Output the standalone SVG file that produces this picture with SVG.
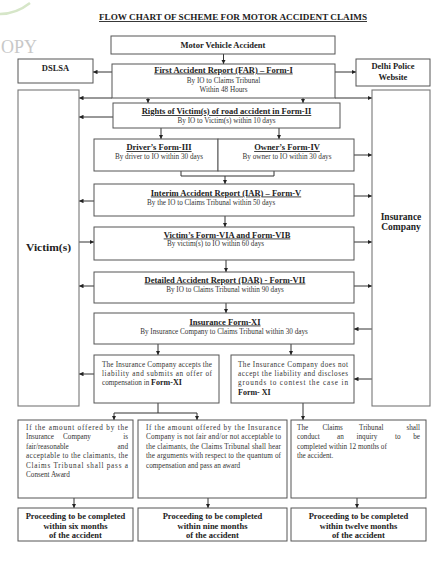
<svg xmlns="http://www.w3.org/2000/svg" width="442" height="564" viewBox="0 0 442 564">
<style>
.box{fill:#fff;stroke:#555;stroke-width:1}
.side{fill:#fff;stroke:#777;stroke-width:1.1}
.t{font-family:"Liberation Serif","Times New Roman",serif;font-size:7.2px;fill:#333}
.b{font-family:"Liberation Serif","Times New Roman",serif;font-weight:bold;font-size:8.5px;fill:#222}
.u{text-decoration:underline}
.c{text-anchor:middle}
.e{text-anchor:end}
.ln{stroke:#333;stroke-width:1;fill:none}
.ar{stroke:#333;stroke-width:1;fill:none;marker-end:url(#ah)}
</style>
<defs>
<marker id="ah" viewBox="0 0 6 6" refX="6" refY="3" markerWidth="4.5" markerHeight="4.5" markerUnits="userSpaceOnUse" orient="auto"><path d="M0,0 L6,3 L0,6 z" fill="#222"/></marker>
</defs>
<rect width="442" height="564" fill="#fff"/>
<g id="watermark">
<path d="M0,14 Q16,14 30,3" fill="none" stroke="#d6e6c8" stroke-width="2.5"/>
<text x="1" y="53" font-family="Liberation Serif, serif" font-size="18" fill="#c8c8c8">OPY</text>
</g>
<text id="title" class="b c u" x="233" y="20" style="font-size:9px" textLength="268" lengthAdjust="spacingAndGlyphs">FLOW CHART OF SCHEME FOR MOTOR ACCIDENT CLAIMS</text>

<g id="connectors">
<line class="ar" x1="223.5" y1="54" x2="223.5" y2="64"/>
<line class="ar" x1="112" y1="72" x2="93" y2="72"/>
<line class="ar" x1="335" y1="72" x2="356" y2="72"/>
<line class="ar" x1="112" y1="98" x2="79" y2="98"/>
<line class="ar" x1="335" y1="98" x2="372" y2="98"/>
<line class="ar" x1="148" y1="98" x2="148" y2="103"/>
<line class="ar" x1="303" y1="98" x2="303" y2="103"/>
<line class="ar" x1="113" y1="117" x2="79" y2="117"/>
<line class="ar" x1="161" y1="128" x2="161" y2="139"/>
<line class="ar" x1="279" y1="128" x2="279" y2="139"/>
<line class="ar" x1="354" y1="155" x2="372" y2="155"/>
<polyline class="ln" points="181,171 181,176 274,176 274,171"/>
<line class="ar" x1="225" y1="176" x2="225" y2="184"/>
<line class="ar" x1="94" y1="201" x2="79" y2="201"/>
<line class="ar" x1="354" y1="196" x2="372" y2="196"/>
<line class="ar" x1="225" y1="216" x2="225" y2="227"/>
<line class="ar" x1="79" y1="242" x2="94" y2="242"/>
<line class="ar" x1="354" y1="242" x2="372" y2="242"/>
<line class="ar" x1="226" y1="260" x2="226" y2="272"/>
<line class="ar" x1="94" y1="286" x2="79" y2="286"/>
<line class="ar" x1="354" y1="286" x2="372" y2="286"/>
<line class="ar" x1="226" y1="303" x2="226" y2="313"/>
<line class="ar" x1="372" y1="329" x2="354" y2="329"/>
<line class="ar" x1="158" y1="344" x2="158" y2="355"/>
<line class="ar" x1="291" y1="344" x2="291" y2="355"/>
<line class="ar" x1="94" y1="374" x2="79" y2="374"/>
<line class="ar" x1="372" y1="379" x2="354" y2="379"/>
<polyline class="ln" points="158,403 158,413"/>
<polyline class="ln" points="114,413 197,413"/>
<line class="ar" x1="114" y1="413" x2="114" y2="420"/>
<line class="ar" x1="197" y1="413" x2="197" y2="420"/>
<line class="ar" x1="303" y1="403" x2="303" y2="420"/>
<line class="ar" x1="74" y1="498" x2="74" y2="508"/>
<line class="ar" x1="208" y1="498" x2="208" y2="508"/>
<line class="ar" x1="357" y1="498" x2="357" y2="508"/>
</g>

<g id="mva"><rect class="box" x="111" y="36" width="224" height="18"/>
<text class="b c" x="223" y="47.5">Motor Vehicle Accident</text></g>

<g id="far"><rect class="box" x="112" y="64" width="223" height="34"/>
<text class="b c u" x="223.5" y="72.5">First Accident Report (FAR) – Form-I</text>
<text class="t c" x="223.5" y="82.5">By IO to Claims Tribunal</text>
<text class="t c" x="223.5" y="91.5">Within 48 Hours</text></g>

<g id="dslsa"><rect class="box" x="18" y="59" width="75" height="24"/>
<text class="b c" x="55.5" y="70.5">DSLSA</text></g>

<g id="delhi"><rect class="box" x="356" y="59" width="74" height="27"/>
<text class="b c" x="393" y="68.5">Delhi Police</text>
<text class="b c" x="393" y="79.5">Website</text></g>

<g id="victims"><rect class="side" x="18" y="90" width="61" height="316"/>
<text class="b c" x="48.5" y="250.5" style="font-size:10px" textLength="45" lengthAdjust="spacingAndGlyphs">Victim(s)</text></g>

<g id="insurance"><rect class="side" x="372" y="90" width="58" height="316"/>
<text class="b c" x="401" y="220" style="font-size:9.5px">Insurance</text>
<text class="b c" x="401" y="230" style="font-size:9.5px">Company</text></g>

<g id="rights"><rect class="box" x="113" y="103" width="227" height="25"/>
<text class="b c u" x="226.5" y="114">Rights of Victim(s) of road accident in Form-II</text>
<text class="t c" x="226.5" y="122.5">By IO to Victim(s) within 10 days</text></g>

<g id="driver"><rect class="box" x="94" y="139" width="124" height="32"/>
<text class="b c u" x="159" y="150">Driver’s Form-III</text>
<text class="t c" x="159" y="158.5">By driver to IO within 30 days</text></g>

<g id="owner"><rect class="box" x="218" y="139" width="136" height="32"/>
<text class="b c u" x="287" y="150">Owner’s Form-IV</text>
<text class="t c" x="287" y="158.5">By owner to IO within 30 days</text></g>

<g id="iar"><rect class="box" x="94" y="184" width="260" height="32"/>
<text class="b c u" x="226" y="195.5">Interim Accident Report (IAR) – Form-V</text>
<text class="t" x="147" y="204.5">By the IO to Claims Tribunal within 50 days</text></g>

<g id="vform"><rect class="box" x="94" y="227" width="260" height="33"/>
<text class="b c u" x="227" y="237.5">Victim’s Form-VIA and Form-VIB</text>
<text class="t" x="167" y="245.5">By victim(s) to IO within 60 days</text></g>

<g id="dar"><rect class="box" x="94" y="272" width="260" height="31"/>
<text class="b c u" x="225" y="282.5">Detailed Accident Report (DAR) - Form-VII</text>
<text class="t c" x="225" y="291.5">By IO to Claims Tribunal within 90 days</text></g>

<g id="ixi"><rect class="box" x="94" y="313" width="260" height="31"/>
<text class="b c u" x="225" y="324.5">Insurance Form-XI</text>
<text class="t c" x="224" y="333.5">By Insurance Company to Claims Tribunal within 30 days</text></g>

<g id="accept"><rect class="box" x="94" y="355" width="125" height="48"/>
<text class="t" x="102" y="366.5" textLength="110" lengthAdjust="spacing">The Insurance Company accepts the</text>
<text class="t" x="102" y="375.5" textLength="110" lengthAdjust="spacing">liability and submits an offer of</text>
<text class="t" x="102" y="385">compensation in <tspan class="b" style="font-size:8px">Form-XI</tspan></text></g>

<g id="notaccept"><rect class="box" x="231" y="355" width="123" height="48"/>
<text class="t" x="238" y="366.5" textLength="110" lengthAdjust="spacing">The Insurance Company does not</text>
<text class="t" x="238" y="375.5" textLength="110" lengthAdjust="spacing">accept the liability and discloses</text>
<text class="t" x="238" y="385" textLength="110" lengthAdjust="spacing">grounds to contest the case in</text>
<text class="b" x="238" y="394.5" style="font-size:8px">Form- XI</text></g>

<g id="fair"><rect class="box" x="18" y="420" width="115" height="78"/>
<text class="t" x="26" y="429.5" textLength="102" lengthAdjust="spacing">If the amount offered by the</text>
<text class="t" x="26" y="439">Insurance</text><text class="t" x="63" y="439">Company</text><text class="t e" x="128" y="439">is</text>
<text class="t" x="26" y="448.5">fair/reasonable</text><text class="t e" x="128" y="448.5">and</text>
<text class="t" x="26" y="458" textLength="102" lengthAdjust="spacing">acceptable to the claimants, the</text>
<text class="t" x="26" y="467.5" textLength="102" lengthAdjust="spacing">Claims Tribunal shall pass a</text>
<text class="t" x="26" y="477">Consent Award</text></g>

<g id="notfair"><rect class="box" x="138" y="420" width="149" height="78"/>
<text class="t" x="146" y="429.5" textLength="135" lengthAdjust="spacing">If the amount offered by the Insurance</text>
<text class="t" x="146" y="439" textLength="135" lengthAdjust="spacing">Company is not fair  and/or not acceptable to</text>
<text class="t" x="146" y="448.5" textLength="135" lengthAdjust="spacing">the claimants, the Claims Tribunal shall hear</text>
<text class="t" x="146" y="458" textLength="135" lengthAdjust="spacing">the arguments with respect to the quantum of</text>
<text class="t" x="146" y="467.5">compensation and pass an award</text></g>

<g id="inquiry"><rect class="box" x="291" y="420" width="135" height="78"/>
<text class="t" x="297" y="429.5">The</text><text class="t" x="322.5" y="429.5">Claims</text><text class="t" x="359" y="429.5">Tribunal</text><text class="t e" x="420" y="429.5">shall</text>
<text class="t" x="297" y="439">conduct</text><text class="t" x="337" y="439">an</text><text class="t" x="356.5" y="439">inquiry</text><text class="t" x="395" y="439">to</text><text class="t e" x="420" y="439">be</text>
<text class="t" x="297" y="448.5">completed within 12 months of</text>
<text class="t" x="297" y="458">the accident.</text></g>

<g id="six"><rect class="box" x="18" y="508" width="115" height="33"/>
<text class="b c" x="75.5" y="519">Proceeding to be completed</text>
<text class="b c" x="75.5" y="528.5">within six months</text>
<text class="b c" x="75.5" y="538">of the accident</text></g>

<g id="nine"><rect class="box" x="138" y="508" width="149" height="33"/>
<text class="b c" x="212.5" y="519">Proceeding to be completed</text>
<text class="b c" x="212.5" y="528.5">within nine months</text>
<text class="b c" x="212.5" y="538">of the accident</text></g>

<g id="twelve"><rect class="box" x="291" y="508" width="135" height="33"/>
<text class="b c" x="358.5" y="519">Proceeding to be completed</text>
<text class="b c" x="358.5" y="528.5">within twelve months</text>
<text class="b c" x="358.5" y="538">of the accident</text></g>
</svg>
